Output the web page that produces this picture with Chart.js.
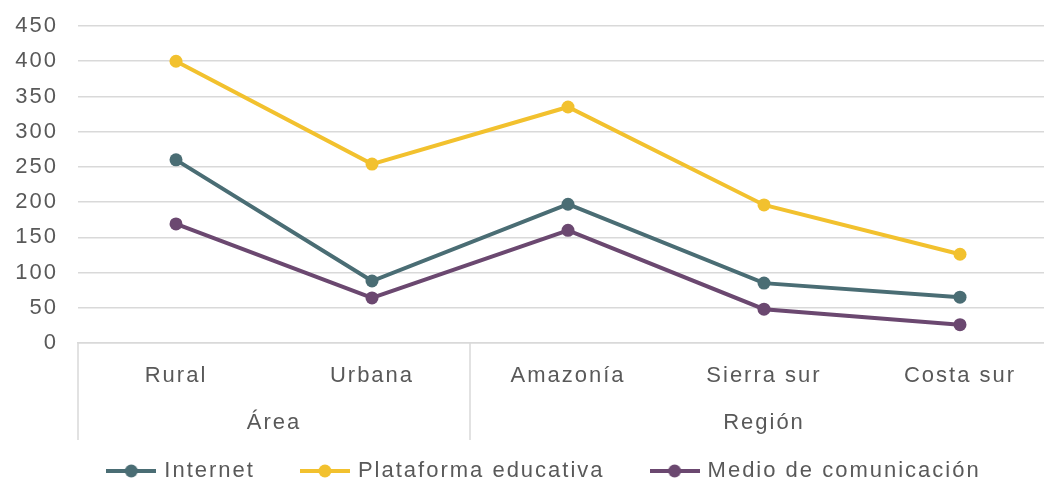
<!DOCTYPE html>
<html>
<head>
<meta charset="utf-8">
<script src="https://cdn.jsdelivr.net/npm/chart.js@4/dist/chart.umd.min.js"></script>
<style>
  html, body { margin: 0; padding: 0; background: #fff; overflow: hidden; }
  canvas { display: block; }
</style>
</head>
<body>
<canvas id="lineChart" width="1090" height="492"></canvas>
<script>
const categories = ['Rural', 'Urbana', 'Amazonía', 'Sierra sur', 'Costa sur'];
const groups = [
    { label: 'Área', from: 0, to: 1 },
    { label: 'Región', from: 2, to: 4 }
];
const internet = [260, 88, 197, 85, 65];
const plataforma = [400, 254, 335, 196, 126];
const medio = [169, 64, 160, 48, 26];
const yTicks = [0, 50, 100, 150, 200, 250, 300, 350, 400, 450];

const colors = ['#4a6d74', '#f2c12e', '#6b4870'];
const fontFamily = "'Liberation Sans', Arial, sans-serif";
const textColor = '#595959';

function legendMarker(color) {
    const c = document.createElement('canvas');
    c.width = 50;
    c.height = 14;
    const g = c.getContext('2d');
    g.strokeStyle = color;
    g.lineWidth = 4;
    g.beginPath();
    g.moveTo(0, 7);
    g.lineTo(50, 7);
    g.stroke();
    g.fillStyle = color;
    g.beginPath();
    g.arc(25, 7, 6.5, 0, Math.PI * 2);
    g.fill();
    return c;
}
const markers = colors.map(legendMarker);

// the reference text is a bit wider than Liberation Sans
const wideText = {
    id: 'wideText',
    beforeUpdate(chart) { chart.ctx.letterSpacing = '2px'; },
    beforeDraw(chart) { chart.ctx.letterSpacing = '2px'; }
};

// group labels + separators under the category axis
const groupAxis = {
    id: 'groupAxis',
    afterDraw(chart) {
        const x = chart.scales.x;
        const ctx = chart.ctx;
        const top = chart.chartArea.bottom;
        const bottom = top + 97;
        const half = (x.getPixelForValue(1) - x.getPixelForValue(0)) / 2;
        ctx.save();
        ctx.strokeStyle = '#d9d9d9';
        ctx.lineWidth = 1.5;
        const edges = [x.getPixelForValue(0) - half];
        groups.forEach(g => edges.push(x.getPixelForValue(g.to) + half));
        edges.forEach(px => {
            ctx.beginPath();
            ctx.moveTo(px, top);
            ctx.lineTo(px, bottom);
            ctx.stroke();
        });
        ctx.fillStyle = textColor;
        ctx.font = '22px ' + fontFamily;
        ctx.textAlign = 'center';
        ctx.textBaseline = 'middle';
        groups.forEach(g => {
            const cx = (x.getPixelForValue(g.from) + x.getPixelForValue(g.to)) / 2;
            ctx.fillText(g.label, cx, top + 80);
        });
        ctx.restore();
    }
};

const ctx = document.getElementById('lineChart').getContext('2d');
new Chart(ctx, {
    type: 'line',
    data: {
        labels: categories,
        datasets: [
            { label: 'Internet', data: internet },
            { label: 'Plataforma educativa', data: plataforma },
            { label: 'Medio de comunicación', data: medio }
        ].map((ds, i) => Object.assign(ds, {
            borderColor: colors[i],
            backgroundColor: colors[i],
            borderWidth: 4,
            pointRadius: 6.5,
            pointHoverRadius: 6.5,
            pointBorderWidth: 0,
            tension: 0
        }))
    },
    options: {
        responsive: false,
        animation: false,
        layout: { padding: { top: 26, left: 32, right: 32, bottom: 0 } },
        plugins: {
            tooltip: { enabled: false },
            legend: {
                position: 'bottom',
                labels: {
                    usePointStyle: true,
                    pointStyleWidth: 44,
                    padding: 48,
                    color: textColor,
                    font: { size: 22, family: fontFamily },
                    generateLabels: (chart) => chart.data.datasets.map((ds, i) => ({
                        text: ds.label,
                        pointStyle: markers[i],
                        fillStyle: colors[i],
                        strokeStyle: colors[i],
                        fontColor: textColor,
                        lineWidth: 0,
                        hidden: false,
                        datasetIndex: i
                    }))
                }
            }
        },
        scales: {
            x: {
                offset: true,
                grid: { display: false, drawTicks: false },
                border: { color: '#d9d9d9', width: 1.5 },
                ticks: {
                    color: textColor,
                    padding: 20,
                    maxRotation: 0,
                    font: { size: 22, family: fontFamily }
                },
                afterFit: (scale) => {
                    scale.height = 69;
                    scale.paddingLeft = 0;
                    scale.paddingRight = 0;
                }
            },
            y: {
                min: 0,
                max: 450,
                afterBuildTicks: (scale) => { scale.ticks = yTicks.map(v => ({ value: v })); },
                afterFit: (scale) => {
                    scale.width = 46;
                    scale.paddingTop = 0;
                    scale.paddingBottom = 0;
                    // labels sit partly in the left padding, so don't clip them to the axis box
                    scale._computeLabelArea = () => undefined;
                },
                grid: { color: '#d9d9d9', lineWidth: 1.5, drawTicks: false },
                border: { display: false },
                ticks: {
                    color: textColor,
                    padding: 20,
                    font: { size: 22, family: fontFamily }
                }
            }
        }
    },
    plugins: [wideText, groupAxis]
});
</script>
</body>
</html>
